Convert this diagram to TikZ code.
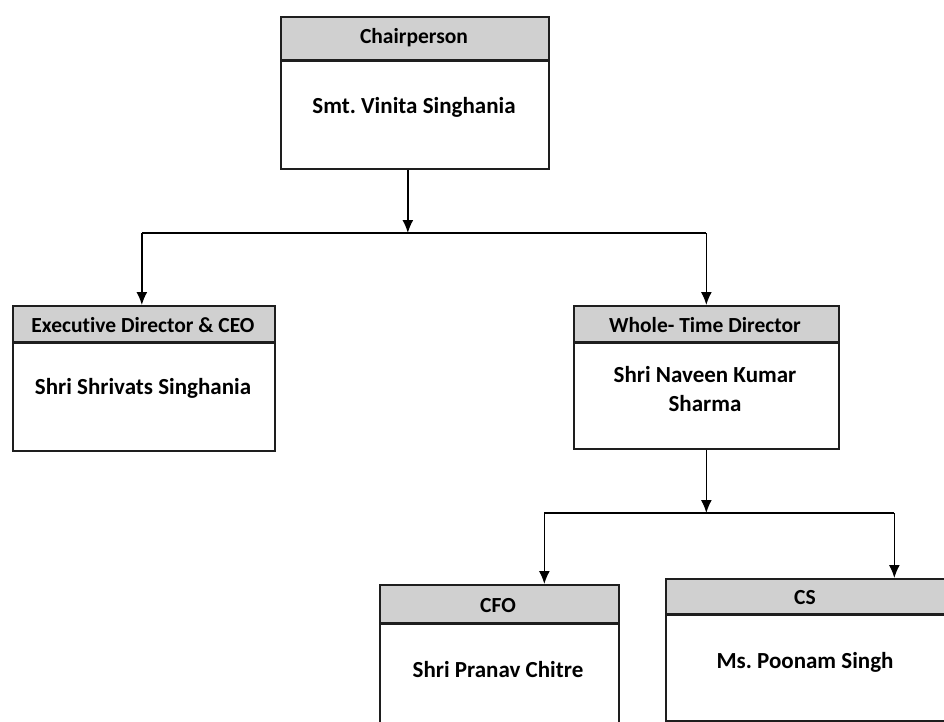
\documentclass[tikz,border=0pt]{standalone}
\usepackage{fontspec}
\setmainfont{Carlito}[Ligatures={NoCommon}]
\usetikzlibrary{arrows.meta}
\definecolor{headgray}{RGB}{208,208,208}
\definecolor{linegray}{RGB}{30,30,30}
\tikzset{
  boxframe/.style={draw=linegray, line width=1.7pt, fill=white, rectangle, anchor=north west, inner sep=0pt},
  headbar/.style={draw=linegray, line width=1.7pt, fill=headgray, rectangle, anchor=north west, inner sep=0pt},
  headline/.style={draw=linegray, line width=2.6pt},
  headtext/.style={font=\fontsize{21.5}{24}\selectfont\bfseries, inner sep=0pt},
  nametext/.style={font=\fontsize{23}{29}\selectfont\bfseries, inner sep=0pt, align=center},
  conn/.style={draw=black, line width=1.5pt},
  arr/.style={conn, -{Latex[length=13pt,width=11pt]}}
}
\begin{document}
\frenchspacing
\begin{tikzpicture}[x=1pt,y=-1pt]
\useasboundingbox (0,0) rectangle (944,722);
\clip (0,0) rectangle (944,722);
% Chairperson
\node[boxframe, minimum width=268pt, minimum height=152pt] (chair) at (280,16) {};
\node[headbar, minimum width=268pt, minimum height=43pt] (chairhead) at (280,16) {};
\draw[headline] (chairhead.south west) -- (chairhead.south east);
\node[headtext] (chairt) at (414,38) {Chairperson};
\node[nametext] (chairn) at (414,107) {Smt. Vinita Singhania};
% Executive Director
\node[boxframe, minimum width=262pt, minimum height=145pt] (exec) at (12,305) {};
\node[headbar, minimum width=262pt, minimum height=36pt] (exechead) at (12,305) {};
\draw[headline] (exechead.south west) -- (exechead.south east);
\node[headtext] (exect) at (143,325) {Executive Director \& CEO};
\node[nametext] (execn) at (143,388) {Shri Shrivats Singhania};
% Whole-time director
\node[boxframe, minimum width=265pt, minimum height=143pt] (wtd) at (573,305) {};
\node[headbar, minimum width=265pt, minimum height=36pt] (wtdhead) at (573,305) {};
\draw[headline] (wtdhead.south west) -- (wtdhead.south east);
\node[headtext] (wtdt) at (705,325) {Whole- Time Director};
\node[nametext] (wtdn) at (705,389) {Shri Naveen Kumar\\Sharma};
% CFO
\node[boxframe, minimum width=239pt, minimum height=160pt] (cfo) at (379,584) {};
\node[headbar, minimum width=239pt, minimum height=38pt] (cfohead) at (379,584) {};
\draw[headline] (cfohead.south west) -- (cfohead.south east);
\node[headtext] (cfot) at (498,606) {CFO};
\node[nametext] (cfon) at (498,670) {Shri Pranav Chitre};
% CS
\node[boxframe, minimum width=285pt, minimum height=142pt] (cs) at (665,578) {};
\node[headbar, minimum width=285pt, minimum height=35pt] (cshead) at (665,578) {};
\draw[headline] (cshead.south west) -- (cshead.south east);
\node[headtext] (cst) at (805,598) {CS};
\node[nametext] (csn) at (805,662) {Ms. Poonam Singh};
% connectors
\coordinate (j1) at ([xshift=-7pt]chair.south |- 0,233);
\draw[arr] ([xshift=-7pt]chair.south) -- (j1);
\draw[conn] ([xshift=-2pt]exec.north |- j1) -- (wtd.north |- j1);
\draw[arr] ([xshift=-2pt]exec.north |- j1) -- ([xshift=-2pt]exec.north);
\draw[arr] (wtd.north |- j1) -- (wtd.north);
\coordinate (j2) at (wtd.south |- 0,513);
\draw[arr] (wtd.south) -- (j2);
\draw[conn] ([xshift=45pt]cfo.north |- j2) -- ([xshift=86pt]cs.north |- j2);
\draw[arr] ([xshift=45pt]cfo.north |- j2) -- ([xshift=45pt]cfo.north);
\draw[arr] ([xshift=86pt]cs.north |- j2) -- ([xshift=86pt]cs.north);
\end{tikzpicture}
\end{document}
